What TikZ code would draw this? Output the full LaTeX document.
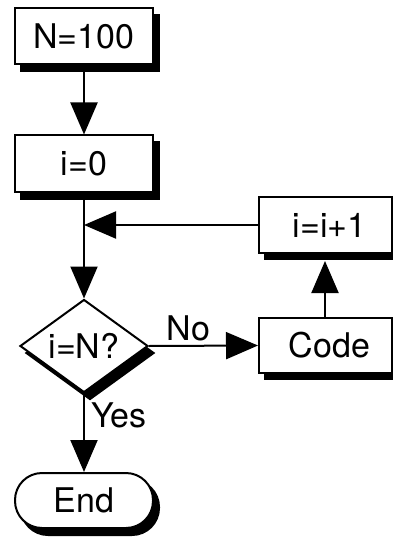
\documentclass[tikz,border=0pt]{standalone}
\usepackage{fontspec}
\setmainfont{TeX Gyre Heros}
\usetikzlibrary{arrows.meta,shapes.geometric}
\begin{document}
\begin{tikzpicture}[x=1pt,y=1pt,
  line width=2pt,
  shadowed/.style={preaction={draw,fill=black,transform canvas={xshift=6pt,yshift=-7pt}}},
  txt/.style={font=\fontsize{34}{36}\selectfont},
  boxnode/.style={txt,draw,fill=white,shadowed,rectangle,inner sep=0pt,minimum height=56pt,minimum width=138pt},
  rbox/.style={txt,draw,fill=white,rectangle,inner sep=0pt,minimum height=56pt,minimum width=133pt,anchor=west},
  shadowfill/.style={fill=black},
  dianode/.style={txt,draw,fill=white,shadowed,diamond,inner sep=0pt,minimum width=128pt,minimum height=93pt,aspect=1.376},
  endnode/.style={txt,draw,fill=white,shadowed,rectangle,rounded corners=27pt,inner sep=0pt,minimum width=138pt,minimum height=55pt},
  arr/.style={-{Triangle[length=32pt,width=27pt]}},
  lbl/.style={txt,inner sep=0pt}
]
\path[use as bounding box] (0,0) rectangle (392,-540);
\fill[shadowfill] (264,-204) rectangle (398,-260);
\fill[shadowfill] (264,-325) rectangle (398,-380);
\node[boxnode] (n100) at (84,-36) {N=100};
\node[boxnode] (i0) at (84,-163.5) {i=0};
\node[rbox] (inc) at (258,-225) {\hspace*{8pt}i=i+1};
\node[rbox,minimum height=55pt] (code) at (258,-345.5) {\hspace*{8pt}Code};
\node[dianode] (dia) at (84,-346) {i=N?};
\node[endnode] (end) at (84,-500.5) {End};
\coordinate (j) at (84,-225);
\coordinate (up) at (325,-261);
\draw[arr] (n100.south) -- (i0.north);
\draw (i0.south) -- (j);
\draw[arr] (j) -- (dia.north);
\draw[arr] (inc.west) -- (j);
\draw[arr] (dia.east) -- node[lbl,pos=0.36,above=4pt] (no) {No} (code.west);
\draw[arr] (code.north -| up) -- (up);
\draw[arr] (dia.south) -- node[lbl,pos=0.28,right=6pt] (yes) {Yes} (end.north);
\end{tikzpicture}
\end{document}
